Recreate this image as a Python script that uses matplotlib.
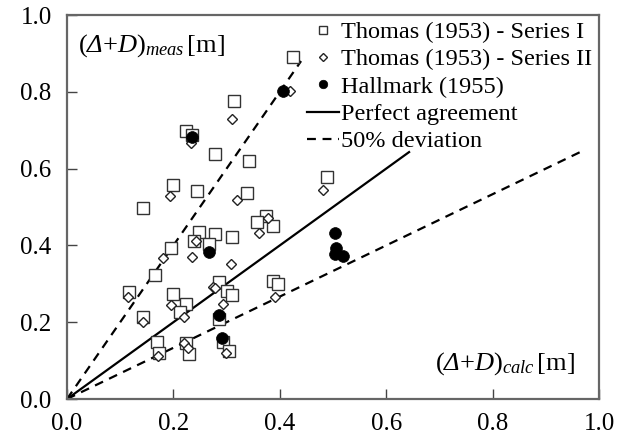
import matplotlib
matplotlib.use("Agg")
import matplotlib.pyplot as plt
import numpy as np

plt.rcParams['font.family'] = ['Liberation Serif', 'DejaVu Serif']
plt.rcParams['mathtext.fontset'] = 'custom'
plt.rcParams['mathtext.rm'] = 'Liberation Serif'
plt.rcParams['mathtext.it'] = 'Liberation Serif:italic'
plt.rcParams['mathtext.cal'] = 'Liberation Serif:italic'

# Thomas (1953) - Series I
s1_calc = [0.425, 0.314, 0.224, 0.235, 0.278, 0.342, 0.199, 0.244, 0.338, 0.143,
           0.489, 0.374, 0.357, 0.387, 0.248, 0.278, 0.310, 0.239, 0.267, 0.195,
           0.165, 0.286, 0.117, 0.301, 0.310, 0.199, 0.224, 0.212, 0.387, 0.397,
           0.143, 0.286, 0.169, 0.224, 0.293, 0.173, 0.229, 0.305]
s1_meas = [0.891, 0.776, 0.698, 0.688, 0.638, 0.620, 0.557, 0.542, 0.536, 0.497,
           0.578, 0.477, 0.461, 0.451, 0.435, 0.430, 0.422, 0.411, 0.404, 0.393,
           0.323, 0.305, 0.279, 0.281, 0.271, 0.273, 0.247, 0.227, 0.307, 0.299,
           0.214, 0.208, 0.148, 0.146, 0.148, 0.120, 0.117, 0.125]

# Thomas (1953) - Series II
s2_calc = [0.310, 0.419, 0.233, 0.194, 0.320, 0.481, 0.378, 0.361, 0.242, 0.235,
           0.180, 0.308, 0.115, 0.274, 0.278, 0.293, 0.195, 0.220, 0.391, 0.143,
           0.220, 0.227, 0.171, 0.299]
s2_meas = [0.729, 0.802, 0.667, 0.529, 0.518, 0.544, 0.471, 0.432, 0.411, 0.370,
           0.367, 0.352, 0.266, 0.292, 0.289, 0.247, 0.245, 0.214, 0.266, 0.201,
           0.146, 0.133, 0.112, 0.120]

# Hallmark (1955)
h_calc = [0.235, 0.406, 0.267, 0.286, 0.291, 0.504, 0.506, 0.504, 0.519]
h_meas = [0.682, 0.802, 0.383, 0.219, 0.159, 0.432, 0.393, 0.378, 0.372]

# Reference lines
perfect_x = [0.0, 0.643]
upper_x = [0.0, 0.44]
lower_x = [0.0, 0.964]
upper_factor = 2.0
lower_factor = 1 / 1.5

x_ticks = [0.0, 0.2, 0.4, 0.6, 0.8, 1.0]
y_ticks = [0.0, 0.2, 0.4, 0.6, 0.8, 1.0]

fig = plt.figure(figsize=(6.23, 4.45), dpi=100)
ax = fig.add_axes([67/623, 1-399/445, 532/623, 384/445])

ax.plot(s1_calc, s1_meas, linestyle='none', marker='s', ms=8, mfc='white',
        mec='#333333', mew=1.0, label='Thomas (1953) - Series I', zorder=3)
ax.plot(s2_calc, s2_meas, linestyle='none', marker='D', ms=5.2, mfc='white',
        mec='#222222', mew=1.0, label='Thomas (1953) - Series II', zorder=3)
ax.plot(h_calc, h_meas, linestyle='none', marker='o', ms=8.5, mfc='black',
        mec='black', mew=0.5, label='Hallmark (1955)', zorder=4)

px = np.array(perfect_x)
ax.plot(px, px, color='black', lw=1.6, label='Perfect agreement', zorder=2)
ux = np.array(upper_x)
l1, = ax.plot(ux, upper_factor * ux, color='black', lw=1.6, label='50% deviation', zorder=2)
l1.set_dashes([4, 3])
lx = np.array(lower_x)
l2, = ax.plot(lx, lower_factor * lx, color='black', lw=1.6, zorder=2)
l2.set_dashes([4, 3])

ax.set_xlim(0, 1.0)
ax.set_ylim(0, 1.0)
ax.set_xticks(x_ticks)
ax.set_yticks(y_ticks)
ax.set_xticklabels([f"{v:.1f}" for v in x_ticks])
ax.set_yticklabels([f"{v:.1f}" for v in y_ticks])
ax.tick_params(axis='both', direction='in', length=7, width=1.0, labelsize=18,
               color='#444444')
ax.tick_params(axis='x', pad=10)
ax.tick_params(axis='y', pad=11)
for sp in ax.spines.values():
    sp.set_color('#666666')
    sp.set_linewidth(1.6)

ax.text(0.02, 0.955, r'$(\mathcal{Δ}{+}\mathit{D})_{\mathit{meas}}\,[\mathrm{m}]$',
        transform=ax.transAxes, fontsize=19, ha='left', va='top')
ax.text(0.955, 0.056, r'$(\mathcal{Δ}{+}\mathit{D})_{\mathit{calc}}\,[\mathrm{m}]$',
        transform=ax.transAxes, fontsize=19, ha='right', va='bottom')

leg = ax.legend(loc='upper left', bbox_to_anchor=(307/623, 1-21/445),
                bbox_transform=fig.transFigure, frameon=False, fontsize=17.5,
                borderpad=0, borderaxespad=0, labelspacing=0.22,
                handlelength=1.3, handletextpad=0.1, markerscale=0.72)

fig.savefig('out.png', dpi=100)
